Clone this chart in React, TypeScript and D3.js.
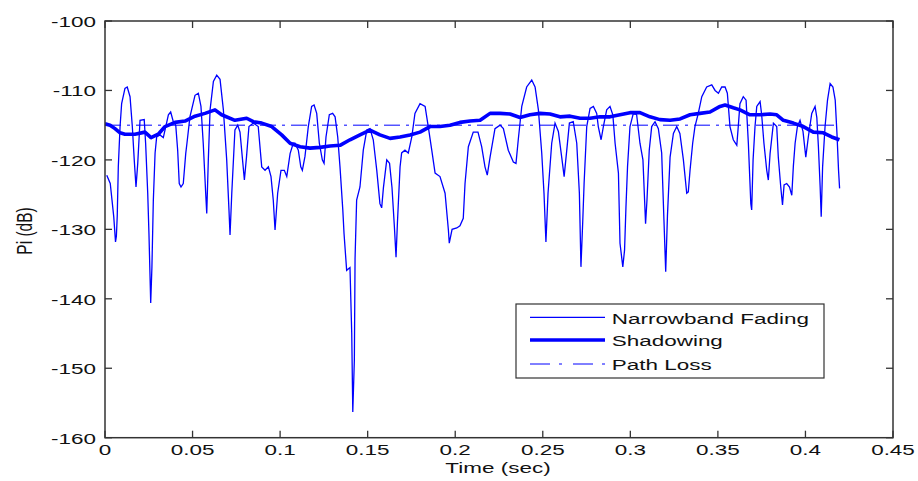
import React from "react";
import * as d3 from "d3";

// Narrowband fading (time in s, power in dB)
const nbTime = [0.001,0.003,0.004,0.005,0.006,0.0065,0.007,0.0076,0.0086,0.0095,0.0114,0.0127,0.0143,0.0156,0.0167,0.0177,0.0187,0.02,0.0224,0.0232,0.0244,0.0251,0.0261,0.0268,0.0276,0.0286,0.0295,0.0314,0.0333,0.0347,0.0362,0.0375,0.039,0.0404,0.0415,0.0424,0.0434,0.0447,0.0461,0.0468,0.0485,0.0514,0.0533,0.0548,0.0561,0.0575,0.0581,0.059,0.06,0.0619,0.0638,0.0657,0.0676,0.0695,0.0708,0.0714,0.0724,0.0742,0.0758,0.0771,0.0784,0.0796,0.0808,0.0822,0.0847,0.0875,0.0895,0.0914,0.0933,0.0948,0.0961,0.0971,0.0986,0.1005,0.1024,0.1038,0.1057,0.1075,0.1085,0.1104,0.1118,0.1127,0.1142,0.1161,0.118,0.1194,0.1209,0.1224,0.1241,0.1251,0.1262,0.1281,0.13,0.1314,0.1329,0.1342,0.1358,0.1365,0.138,0.1399,0.1409,0.1415,0.1424,0.1428,0.1437,0.1456,0.1475,0.1495,0.1513,0.1532,0.1552,0.157,0.158,0.159,0.1609,0.1625,0.1639,0.1653,0.1662,0.167,0.1685,0.1694,0.1713,0.1732,0.1752,0.177,0.1799,0.1828,0.1846,0.1866,0.1885,0.1913,0.1942,0.1961,0.1966,0.1982,0.2009,0.2027,0.2046,0.2056,0.2075,0.2103,0.213,0.2151,0.217,0.2183,0.2199,0.2227,0.2256,0.2275,0.2303,0.2332,0.2347,0.236,0.238,0.2408,0.2437,0.2456,0.2475,0.2494,0.2507,0.2518,0.253,0.2551,0.257,0.2589,0.2608,0.2622,0.2637,0.2652,0.2674,0.2694,0.2709,0.2718,0.2728,0.2736,0.2751,0.277,0.2789,0.2808,0.2817,0.2833,0.2846,0.2865,0.2884,0.29,0.2913,0.2932,0.2941,0.2957,0.2967,0.2975,0.2984,0.2998,0.3017,0.3036,0.3055,0.3072,0.3087,0.3095,0.3108,0.3122,0.3141,0.316,0.3179,0.3192,0.3202,0.3212,0.3227,0.3246,0.3265,0.3283,0.3303,0.3322,0.3331,0.3341,0.3356,0.3369,0.3388,0.3408,0.3436,0.3465,0.3484,0.3503,0.3522,0.3541,0.3554,0.3569,0.3588,0.3608,0.3617,0.3626,0.3645,0.3661,0.3674,0.3688,0.3693,0.3701,0.3712,0.3722,0.3741,0.375,0.3763,0.3779,0.3788,0.3798,0.3817,0.3836,0.3845,0.3859,0.3869,0.3878,0.3893,0.3909,0.3922,0.3931,0.3941,0.3954,0.3969,0.3986,0.4002,0.4017,0.4036,0.4055,0.4065,0.4074,0.4084,0.409,0.4098,0.4112,0.4126,0.4141,0.4157,0.417,0.418,0.4189,0.4195];
const nbPower = [-122.2,-123.4,-125.8,-128.2,-131.8,-131.0,-128,-121,-115.2,-111.9,-109.7,-109.5,-110.9,-115.2,-120,-123.9,-120.5,-114.3,-114.2,-117.6,-124.8,-130.6,-140.6,-135.4,-125.8,-119,-116.7,-116.4,-116.8,-115.2,-113.5,-113.1,-114.5,-115,-118.6,-123.4,-123.9,-123.4,-119.1,-117.6,-113.8,-110.7,-110.4,-112.3,-117.6,-124.8,-127.7,-120,-112.8,-108.7,-107.8,-108.4,-112.8,-120,-127.2,-130.8,-124.8,-115.7,-115,-116,-119.6,-122.9,-119.6,-115.2,-114.7,-115.2,-121,-121.5,-121,-122.4,-125.8,-130.1,-124.8,-121.5,-121.5,-122.4,-119.1,-117.6,-117.6,-118.6,-121,-121.5,-119.5,-115.2,-112.3,-112.1,-113.3,-117.6,-120,-120.5,-116.7,-113.5,-113.3,-113.8,-116.7,-121,-127.2,-130.6,-135.9,-135.5,-145,-156.3,-148.8,-134.2,-125.8,-123.9,-118.6,-115.7,-115.5,-117.1,-121.5,-126.3,-126.9,-124,-120,-120.5,-124,-129.8,-134,-129,-121,-119,-118.6,-119,-116.7,-113.3,-111.9,-112.3,-115.2,-118.6,-121.9,-122.4,-124.8,-130.1,-132,-130,-129.8,-129.5,-128.4,-123.4,-118.1,-116,-116,-118.1,-121,-122.2,-119.6,-115.5,-115,-115.5,-118.6,-120.3,-120.5,-117.1,-112.3,-109.5,-108.5,-109.5,-112.8,-119,-124.8,-131.8,-124.8,-117.6,-114.7,-115.9,-119.6,-122.4,-118.6,-114.7,-114.5,-117.6,-124.8,-135.4,-129,-123.4,-115.2,-112.6,-112.3,-113.3,-115.2,-117.1,-115.2,-112.8,-112.3,-113.5,-117.6,-121.9,-132,-135.4,-133,-126.8,-121,-115.2,-113.3,-113.5,-117.6,-120,-129.2,-125.8,-118.6,-115.2,-114.5,-115.5,-119,-128.7,-136.1,-128,-119.6,-116.2,-115.2,-116.2,-120,-124.8,-124.6,-121.5,-117.6,-115.2,-113.3,-110.9,-109.5,-109.2,-110,-110.4,-109.5,-109.5,-110.4,-115.2,-117.1,-117.9,-115,-111.9,-110.9,-111.4,-117.6,-126.3,-127.2,-120,-115.2,-112.3,-111.6,-113.5,-117.6,-121.5,-122.9,-119.1,-114.7,-115.2,-119.6,-123.9,-126.5,-123.6,-123.4,-123.9,-125.1,-120.9,-117.6,-115.2,-114.3,-115.9,-119.6,-116.6,-113.3,-112.3,-113.9,-118.1,-123.9,-128.2,-121,-115.2,-111.4,-109,-109.5,-111.4,-116.2,-121.5,-124.1];

// Shadowing
const shTime = [0,0.0029,0.0057,0.0086,0.0114,0.0171,0.0228,0.0263,0.0304,0.0343,0.04,0.0457,0.0514,0.0571,0.0628,0.0666,0.0742,0.0809,0.0847,0.0895,0.0952,0.1009,0.1057,0.1114,0.1171,0.1228,0.1285,0.1342,0.1399,0.1456,0.1513,0.157,0.1628,0.1685,0.1742,0.1799,0.1856,0.1913,0.197,0.2027,0.2085,0.2142,0.2199,0.2256,0.2313,0.237,0.2427,0.2484,0.2541,0.2598,0.2656,0.2713,0.277,0.2827,0.2884,0.2941,0.2998,0.3055,0.3112,0.3169,0.3227,0.3284,0.3341,0.3398,0.3455,0.3512,0.3541,0.3588,0.3626,0.3683,0.3741,0.3798,0.3836,0.3874,0.3931,0.3988,0.4045,0.4102,0.415,0.4194];
const shPower = [-114.8,-115,-115.5,-116.1,-116.3,-116.3,-116,-116.8,-116.3,-115.2,-114.6,-114.4,-113.7,-113.3,-112.8,-113.5,-114.3,-114,-114.5,-114.7,-115.2,-116.4,-117.6,-118.1,-118.3,-118.2,-118,-117.9,-117.1,-116.4,-115.7,-116.4,-116.9,-116.7,-116.4,-116,-115.2,-115.2,-115,-114.6,-114.4,-114.3,-113.3,-113.3,-113.4,-113.9,-113.5,-113.3,-113.4,-113.8,-113.7,-114,-114,-113.8,-113.8,-113.5,-113.2,-113.2,-113.8,-114.2,-114.3,-114.1,-113.5,-113.3,-113.1,-112.3,-112.1,-112.5,-112.8,-113.5,-113.5,-113.4,-113.5,-114.3,-114.7,-115.2,-116,-116.1,-116.7,-117.1];

// Path loss
const plTime = [0, 0.4194];
const plPower = [-115, -115];

const xTicks = [0, 0.05, 0.1, 0.15, 0.2, 0.25, 0.3, 0.35, 0.4, 0.45];
const xTickLabels = ["0", "0.05", "0.1", "0.15", "0.2", "0.25", "0.3", "0.35", "0.4", "0.45"];
const yTicks = [-160, -150, -140, -130, -120, -110, -100];

const legendLabels = ["Narrowband Fading", "Shadowing", "Path Loss"];

const W = 918, H = 481;
const L = 105, R = 893, T = 21, B = 437.7;
const FONT = "'Liberation Sans', Arial, sans-serif";
const FS = 15.5;
const SX = 1.45;
const BLUE = "#0000ff";

export default function App() {
  const x = d3.scaleLinear().domain([0, 0.45]).range([L, R]);
  const y = d3.scaleLinear().domain([-160, -100]).range([B, T]);
  const line = d3.line<[number, number]>().x(d => x(d[0])).y(d => y(d[1]));
  const nb = line(nbTime.map((t, i) => [t, nbPower[i]]) as [number, number][]) || "";
  const sh = line(shTime.map((t, i) => [t, shPower[i]]) as [number, number][]) || "";
  const pl = line(plTime.map((t, i) => [t, plPower[i]]) as [number, number][]) || "";
  const tickLen = 7;
  const axisColor = "#333";
  const textColor = "#111";

  const legX0 = 516, legY0 = 304, legX1 = 824, legY1 = 378;
  const rowY = [317.3, 340, 364];

  return (
    <svg width={W} height={H} style={{ position: "absolute", left: 0, top: 0, background: "#fff" }}>
      <rect x={0} y={0} width={W} height={H} fill="#fff" />
      <defs>
        <clipPath id="plotclip">
          <rect x={L} y={T} width={R - L} height={B - T} />
        </clipPath>
      </defs>
      <g clipPath="url(#plotclip)">
        <path d={pl} fill="none" stroke={BLUE} strokeWidth={1} strokeDasharray="16,6,3,6" />
        <path d={nb} fill="none" stroke={BLUE} strokeWidth={1.3} strokeLinejoin="miter" />
        <path d={sh} fill="none" stroke={BLUE} strokeWidth={3.6} strokeLinejoin="round" />
      </g>
      {/* axes box */}
      <rect x={L} y={T} width={R - L} height={B - T} fill="none" stroke={axisColor} strokeWidth={1.5} />
      {xTicks.map((t, i) => (
        <g key={"xt" + i}>
          <line x1={x(t)} x2={x(t)} y1={B} y2={B - tickLen} stroke={axisColor} strokeWidth={1.3} />
          <line x1={x(t)} x2={x(t)} y1={T} y2={T + tickLen} stroke={axisColor} strokeWidth={1.3} />
          <text transform={`translate(${x(t)},${455}) scale(${SX},1)`} textAnchor="middle" fontFamily={FONT} fontSize={FS} fill={textColor}>
            {xTickLabels[i]}
          </text>
        </g>
      ))}
      {yTicks.map((v, i) => (
        <g key={"yt" + i}>
          <line x1={L} x2={L + tickLen} y1={y(v)} y2={y(v)} stroke={axisColor} strokeWidth={1.3} />
          <line x1={R} x2={R - tickLen} y1={y(v)} y2={y(v)} stroke={axisColor} strokeWidth={1.3} />
          <text transform={`translate(${96},${y(v) + 5.8}) scale(${SX},1)`} textAnchor="end" fontFamily={FONT} fontSize={FS} fill={textColor}>
            {String(v)}
          </text>
        </g>
      ))}
      <text transform={`translate(${498},${472.5}) scale(${SX},1)`} textAnchor="middle" fontFamily={FONT} fontSize={FS} fill={textColor}>
        Time (sec)
      </text>
      <text transform={`translate(${32},${231}) scale(${SX},1) rotate(-90)`} textAnchor="middle" fontFamily={FONT} fontSize={FS} fill={textColor}>
        Pi (dB)
      </text>
      {/* legend */}
      <rect x={legX0} y={legY0} width={legX1 - legX0} height={legY1 - legY0} fill="#fff" stroke={axisColor} strokeWidth={1.2} />
      <line x1={530} x2={605} y1={rowY[0]} y2={rowY[0]} stroke={BLUE} strokeWidth={1.3} />
      <line x1={530} x2={605} y1={rowY[1]} y2={rowY[1]} stroke={BLUE} strokeWidth={3.6} />
      <line x1={530} x2={605} y1={rowY[2]} y2={rowY[2]} stroke={BLUE} strokeWidth={1} strokeDasharray="20,9,3,11" />
      {legendLabels.map((lab, i) => (
        <text key={"lg" + i} transform={`translate(${611.7},${rowY[i] + 6.3}) scale(${SX},1)`} fontFamily={FONT} fontSize={FS} fill={textColor}>
          {lab}
        </text>
      ))}
    </svg>
  );
}
